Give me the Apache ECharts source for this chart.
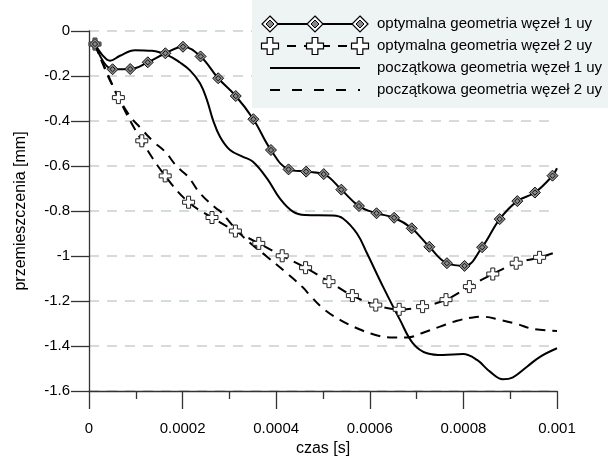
<!DOCTYPE html>
<html>
<head>
<meta charset="utf-8">
<script src="https://cdn.jsdelivr.net/npm/echarts@6/dist/echarts.min.js"></script>
<style>html,body{margin:0;padding:0;background:#fff}#c{width:608px;height:456px}</style>
</head>
<body>
<div id="c"></div>
<script>
// ---- data (time in seconds, displacement in mm) ----
var seriesNames = [
  'optymalna geometria węzeł 1 uy',
  'optymalna geometria węzeł 2 uy',
  'początkowa geometria węzeł 1 uy',
  'początkowa geometria węzeł 2 uy'
];
var xTicks = [0, 0.0002, 0.0004, 0.0006, 0.0008, 0.001];
var yTicks = [0, -0.2, -0.4, -0.6, -0.8, -1, -1.2, -1.4, -1.6];

// optymalna 1 (diamond markers)
var opt1T = [0.0000128, 0.0000504, 0.0000880, 0.0001256, 0.0001632, 0.0002008, 0.0002384,
  0.0002760, 0.0003136, 0.0003512, 0.0003888, 0.0004264, 0.0004640, 0.0005016, 0.0005392,
  0.0005768, 0.0006144, 0.0006520, 0.0006896, 0.0007272, 0.0007648, 0.0008024, 0.0008400,
  0.0008776, 0.0009152, 0.0009528, 0.0009904];
var opt1Y = [-0.058, -0.170, -0.169, -0.139, -0.099, -0.070, -0.113,
  -0.210, -0.289, -0.392, -0.529, -0.615, -0.625, -0.636, -0.705,
  -0.778, -0.810, -0.830, -0.877, -0.959, -1.032, -1.044, -0.961,
  -0.836, -0.756, -0.718, -0.643];
var opt1EndT = 0.001, opt1EndY = -0.610;

// optymalna 2 (plus markers)
var opt2T = [0.0000128, 0.0000628, 0.0001128, 0.0001628, 0.0002128, 0.0002628, 0.0003128,
  0.0003628, 0.0004128, 0.0004628, 0.0005128, 0.0005628, 0.0006128, 0.0006628, 0.0007128,
  0.0007628, 0.0008128, 0.0008628, 0.0009128, 0.0009628];
var opt2Y = [-0.058, -0.296, -0.488, -0.644, -0.761, -0.829, -0.889,
  -0.944, -0.999, -1.052, -1.114, -1.176, -1.218, -1.237, -1.225,
  -1.194, -1.136, -1.080, -1.032, -1.006];
var opt2EndT = 0.001, opt2EndY = -0.981;

// początkowa 1 (solid)
var pocz1T = [0.0000128, 0.0000278, 0.0000449, 0.0000662, 0.0000983, 0.0001346, 0.0001688,
  0.0001944, 0.0002158, 0.0002372, 0.0002521, 0.0002650, 0.0002799, 0.0003013, 0.0003291,
  0.0003504, 0.0003803, 0.0004081, 0.0004359, 0.0004615, 0.0005214, 0.0005427, 0.0005726,
  0.0005940, 0.0006282, 0.0006645, 0.0006923, 0.0007222, 0.0007564, 0.0007991, 0.0008291,
  0.0008568, 0.0008846, 0.0009060, 0.0009359, 0.0009637, 0.001];
var pocz1Y = [-0.058, -0.105, -0.132, -0.110, -0.085, -0.088, -0.108,
  -0.140, -0.175, -0.232, -0.307, -0.396, -0.470, -0.529, -0.559,
  -0.581, -0.655, -0.745, -0.803, -0.818, -0.820, -0.833, -0.900,
  -0.988, -1.136, -1.284, -1.388, -1.432, -1.440, -1.436, -1.462,
  -1.514, -1.548, -1.539, -1.492, -1.448, -1.410];

// początkowa 2 (dashed)
var pocz2T = [0.0000128, 0.0000449, 0.0000833, 0.0001111, 0.0001368, 0.0001624, 0.0001880,
  0.0002115, 0.0002372, 0.0002714, 0.0002799, 0.0003291, 0.0003803, 0.0004231, 0.0004573,
  0.0004722, 0.0005000, 0.0005363, 0.0005726, 0.0006068, 0.0006432, 0.0006795, 0.0007137,
  0.0007500, 0.0007863, 0.0008205, 0.0008419, 0.0008782, 0.0009145, 0.0009487, 0.001];
var pocz2Y = [-0.058, -0.220, -0.366, -0.433, -0.490, -0.536, -0.603,
  -0.647, -0.721, -0.788, -0.800, -0.914, -1.003, -1.077, -1.140,
  -1.175, -1.233, -1.284, -1.321, -1.348, -1.362, -1.362, -1.341,
  -1.314, -1.288, -1.273, -1.270, -1.284, -1.302, -1.324, -1.333];

// ---- build ----
function pairs(t, y) { return t.map(function (v, i) { return [v, y[i]]; }); }
var opt1Data = pairs(opt1T, opt1Y).concat([{ value: [opt1EndT, opt1EndY], symbol: 'none' }]);
var opt2Data = pairs(opt2T, opt2Y).concat([{ value: [opt2EndT, opt2EndY], symbol: 'none' }]);

var DIAMOND = 'path://M5,0 L10,5 L5,10 L0,5 Z M5,2.6 L7.4,5 L5,7.4 L2.6,5 Z';
var PLUS = 'path://M4,0 L8,0 L8,4 L12,4 L12,8 L8,8 L8,12 L4,12 L4,8 L0,8 L0,4 L4,4 Z';
var FONT = '"Liberation Sans", Arial, sans-serif';

var chart = echarts.init(document.getElementById('c'), null, { renderer: 'canvas' });

// legend built as graphics
var lgX0 = 270, lgX1 = 360, lgTextX = 377, rows = [24, 46, 68, 90];
function diamondPts(cx, cy, r) { return [[cx, cy - r], [cx + r, cy], [cx, cy + r], [cx - r, cy]]; }
function plusPts(cx, cy, s) {
  var a = s / 6, b = s / 2;
  return [[cx - a, cy - b], [cx + a, cy - b], [cx + a, cy - a], [cx + b, cy - a], [cx + b, cy + a],
    [cx + a, cy + a], [cx + a, cy + b], [cx - a, cy + b], [cx - a, cy + a], [cx - b, cy + a],
    [cx - b, cy - a], [cx - a, cy - a]];
}
var g = [];
g.push({ type: 'rect', shape: { x: 252, y: 0, width: 356, height: 108 }, style: { fill: '#eef3f3' }, z: 100 });
g.push({ type: 'line', shape: { x1: lgX0, y1: rows[0], x2: lgX1, y2: rows[0] }, style: { stroke: '#000', lineWidth: 2 }, z: 101 });
[lgX0, (lgX0 + lgX1) / 2, lgX1].forEach(function (cx) {
  g.push({ type: 'polygon', shape: { points: diamondPts(cx, rows[0], 8) }, style: { fill: '#fff', stroke: '#000', lineWidth: 1.2 }, z: 102 });
  g.push({ type: 'polygon', shape: { points: diamondPts(cx, rows[0], 4) }, style: { fill: '#888', stroke: '#000', lineWidth: 1 }, z: 103 });
});
g.push({ type: 'line', shape: { x1: lgX0, y1: rows[1], x2: lgX1, y2: rows[1] }, style: { stroke: '#000', lineWidth: 2, lineDash: [9, 8] }, z: 101 });
[lgX0, (lgX0 + lgX1) / 2, lgX1].forEach(function (cx) {
  g.push({ type: 'polygon', shape: { points: plusPts(cx, rows[1], 17) }, style: { fill: '#fff', stroke: '#000', lineWidth: 1.2 }, z: 102 });
});
g.push({ type: 'line', shape: { x1: lgX0, y1: rows[2], x2: lgX1, y2: rows[2] }, style: { stroke: '#000', lineWidth: 2 }, z: 101 });
g.push({ type: 'line', shape: { x1: lgX0, y1: rows[3], x2: lgX1, y2: rows[3] }, style: { stroke: '#000', lineWidth: 2, lineDash: [10, 12] }, z: 101 });
seriesNames.forEach(function (n, i) {
  g.push({ type: 'text', style: { text: n, x: lgTextX, y: rows[i], fill: '#000', font: '15px ' + FONT, verticalAlign: 'middle', align: 'left' }, z: 102 });
});

var option = {
  animation: false,
  backgroundColor: '#fff',
  textStyle: { fontFamily: FONT },
  grid: { left: 89, right: 51, top: 31, bottom: 65, containLabel: false, outerBoundsMode: 'none' },
  xAxis: {
    type: 'value', min: xTicks[0], max: xTicks[xTicks.length - 1], interval: 0.0002,
    name: 'czas [s]', nameLocation: 'middle', nameGap: 47,
    nameTextStyle: { fontSize: 16, color: '#000', fontFamily: FONT },
    axisLine: { onZero: false, lineStyle: { color: '#333', width: 1.3 } },
    axisTick: { show: true, length: 18, lineStyle: { color: '#333', width: 1.3 } },
    minorTick: { show: true, splitNumber: 2, length: 8, lineStyle: { color: '#333', width: 1.3 } },
    splitLine: { show: false },
    axisLabel: { margin: 30, fontSize: 15, color: '#000', fontFamily: FONT,
      formatter: function (v) { return String(+v.toFixed(4)); } }
  },
  yAxis: {
    type: 'value', min: yTicks[yTicks.length - 1], max: yTicks[0], interval: 0.2,
    name: 'przemieszczenia [mm]', nameLocation: 'middle', nameGap: 60,
    nameTextStyle: { fontSize: 16, color: '#000', fontFamily: FONT },
    axisLine: { show: true, onZero: false, lineStyle: { color: '#333', width: 1.3 } },
    axisTick: { show: true, length: 18, lineStyle: { color: '#333', width: 1.3 } },
    splitLine: { show: true, lineStyle: { color: '#c6d0d0', width: 1.5, type: [10, 8] } },
    axisLabel: { margin: 19, fontSize: 15, color: '#000', fontFamily: FONT,
      formatter: function (v) { return String(+v.toFixed(2)); } }
  },
  series: [
    { name: seriesNames[2], type: 'line', data: pairs(pocz1T, pocz1Y), smooth: 0.4, showSymbol: false, symbol: 'none',
      lineStyle: { color: '#000', width: 2 }, z: 2 },
    { name: seriesNames[3], type: 'line', data: pairs(pocz2T, pocz2Y), smooth: 0.4, showSymbol: false, symbol: 'none',
      lineStyle: { color: '#000', width: 2, type: [10, 7] }, z: 2 },
    { name: seriesNames[1], type: 'line', data: opt2Data, smooth: 0.4, showAllSymbol: true,
      symbol: PLUS, symbolSize: 12,
      itemStyle: { color: '#fff', borderColor: '#222', borderWidth: 1 },
      lineStyle: { color: '#000', width: 2, type: [10, 7] }, z: 3 },
    { name: seriesNames[0], type: 'line', data: opt1Data, smooth: 0.4, showAllSymbol: true,
      symbol: DIAMOND, symbolSize: 11,
      itemStyle: { color: '#8a8a8a', borderColor: '#111', borderWidth: 1 },
      lineStyle: { color: '#000', width: 2 }, z: 4 }
  ],
  graphic: g
};
chart.setOption(option);
</script>
</body>
</html>
